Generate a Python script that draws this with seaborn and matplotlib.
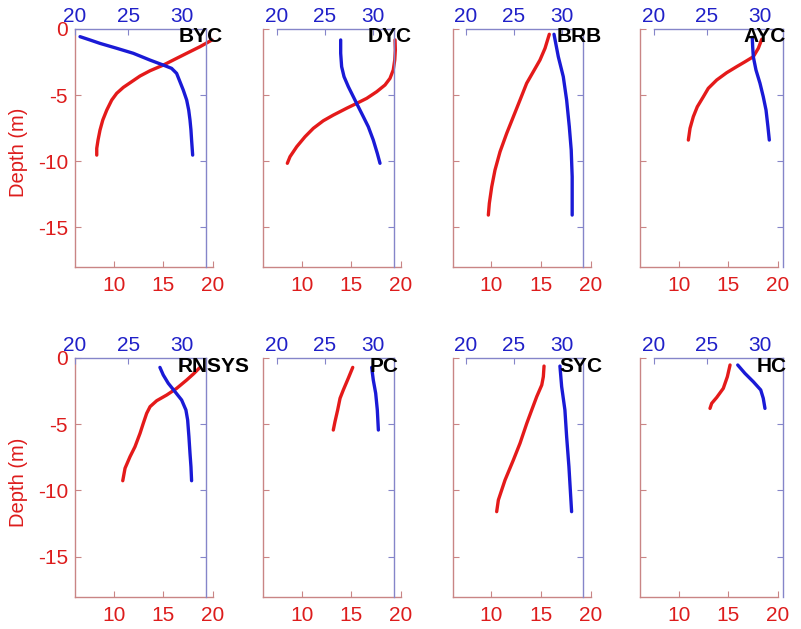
import matplotlib
matplotlib.use("Agg")
import matplotlib.pyplot as plt
import seaborn as sns
import pandas as pd

# ---- station profiles: temperature (deg C) and salinity vs depth (m) ----
stations = ["BYC", "DYC", "BRB", "AYC", "RNSYS", "PC", "SYC", "HC"]

byc_temp = [19.9, 18.69, 17.35, 16.0, 15.0, 13.66, 12.65, 11.81, 10.97, 10.3,
            9.8, 9.3, 8.9, 8.62, 8.42, 8.29, 8.29]
byc_temp_depth = [-0.83, -1.34, -1.84, -2.35, -2.73, -3.16, -3.56, -3.99, -4.42,
                  -4.87, -5.38, -6.14, -6.89, -7.65, -8.41, -9.04, -9.55]
byc_sal = [20.47, 21.4, 22.34, 23.9, 25.45, 27.0, 28.25, 29.03, 29.5, 29.81,
           30.12, 30.44, 30.63, 30.75, 30.84, 30.9, 31.0]
byc_sal_depth = [-0.58, -0.83, -1.09, -1.46, -1.84, -2.35, -2.73, -2.98, -3.36,
                 -3.99, -4.62, -5.38, -6.14, -6.89, -7.65, -8.41, -9.55]

dyc_temp = [19.4, 19.43, 19.37, 19.22, 18.89, 18.39, 17.55, 16.55, 15.54, 14.53,
            13.18, 12.17, 11.17, 10.33, 9.5, 8.82, 8.55]
dyc_temp_depth = [-0.83, -1.59, -2.35, -3.1, -3.74, -4.24, -4.75, -5.25, -5.63,
                  -6.0, -6.52, -6.95, -7.52, -8.16, -8.91, -9.67, -10.17]
dyc_sal = [26.64, 26.64, 26.74, 26.99, 27.44, 27.96, 28.48, 29.0, 29.52, 30.04,
           30.46, 30.74]
dyc_sal_depth = [-0.83, -1.84, -2.85, -3.61, -4.37, -5.13, -5.89, -6.64, -7.4,
                 -8.41, -9.42, -10.17]

brb_temp = [15.85, 15.42, 14.91, 14.24, 13.57, 12.9, 12.23, 11.56, 10.89, 10.38,
            10.05, 9.81, 9.71]
brb_temp_depth = [-0.4, -1.46, -2.35, -3.23, -4.11, -5.38, -6.64, -7.9, -9.29,
                  -10.68, -11.95, -13.2, -14.09]
brb_sal = [29.2, 29.65, 30.17, 30.52, 30.8, 31.0, 31.1, 31.1]
brb_sal_depth = [-0.4, -2.1, -3.61, -5.38, -7.4, -9.17, -11.19, -14.09]

ayc_temp = [18.36, 18.02, 17.51, 16.68, 15.84, 14.83, 13.83, 12.98, 12.48, 11.87,
            11.47, 11.14, 10.97]
ayc_temp_depth = [-0.78, -1.46, -2.1, -2.48, -2.85, -3.31, -3.86, -4.49, -5.13,
                  -5.89, -6.64, -7.52, -8.41]
ayc_sal = [29.27, 29.31, 29.37, 29.62, 30.0, 30.31, 30.57, 30.75, 30.88]
ayc_sal_depth = [-0.63, -1.34, -2.1, -3.1, -4.11, -5.13, -6.14, -7.4, -8.41]

rnsys_temp = [18.69, 18.02, 17.35, 16.34, 15.34, 14.33, 13.66, 13.32, 12.98,
              12.65, 12.14, 11.64, 11.14, 10.91]
rnsys_temp_depth = [-0.73, -1.23, -1.68, -2.31, -2.81, -3.24, -3.69, -4.19, -4.94,
                    -5.7, -6.71, -7.46, -8.33, -9.27]
rnsys_sal = [27.94, 28.25, 28.72, 29.35, 29.97, 30.37, 30.53, 30.65, 30.75, 30.84,
             30.9]
rnsys_sal_depth = [-0.73, -1.3, -1.93, -2.56, -3.19, -3.94, -4.69, -5.95, -7.2,
                   -8.21, -9.27]

pc_temp = [15.14, 14.69, 14.19, 13.86, 13.62, 13.35, 13.18]
pc_temp_depth = [-0.73, -1.55, -2.43, -3.06, -3.94, -4.82, -5.45]
pc_sal = [29.87, 30.04, 30.29, 30.46, 30.57]
pc_sal_depth = [-0.73, -1.68, -2.68, -3.94, -5.45]

syc_temp = [15.32, 15.25, 15.09, 14.58, 14.08, 13.58, 12.9, 12.23, 11.39, 10.72,
            10.55]
syc_temp_depth = [-0.63, -1.43, -2.06, -2.94, -3.94, -4.95, -6.45, -7.71, -9.22,
                  -10.72, -11.6]
syc_sal = [29.82, 30.0, 30.34, 30.52, 30.76, 31.04]
syc_sal_depth = [-0.63, -2.18, -3.94, -5.95, -8.21, -11.6]

hc_temp = [15.17, 14.9, 14.49, 13.83, 13.32, 13.15]
hc_temp_depth = [-0.55, -1.43, -2.31, -2.99, -3.44, -3.82]
hc_sal = [27.9, 28.58, 29.37, 30.07, 30.31, 30.47]
hc_sal_depth = [-0.55, -1.18, -1.81, -2.43, -3.06, -3.82]

temps = [byc_temp, dyc_temp, brb_temp, ayc_temp, rnsys_temp, pc_temp, syc_temp, hc_temp]
temp_depths = [byc_temp_depth, dyc_temp_depth, brb_temp_depth, ayc_temp_depth,
               rnsys_temp_depth, pc_temp_depth, syc_temp_depth, hc_temp_depth]
sals = [byc_sal, dyc_sal, brb_sal, ayc_sal, rnsys_sal, pc_sal, syc_sal, hc_sal]
sal_depths = [byc_sal_depth, dyc_sal_depth, brb_sal_depth, ayc_sal_depth,
              rnsys_sal_depth, pc_sal_depth, syc_sal_depth, hc_sal_depth]

temp_ticks = [10, 15, 20]
sal_ticks = [20, 25, 30]
depth_ticks = [0, -5, -10, -15]

# ---- styling ----
sns.set_style("white")
plt.rcParams["font.family"] = ["Liberation Sans", "DejaVu Sans"]

RED_LINE = "#e41a1a"
BLUE_LINE = "#1a1ad6"
RED_TXT = "#dd1c1c"
BLUE_TXT = "#2020c8"
RED_SPINE = "#c98585"
BLUE_SPINE = "#8585c9"

W, H = 801, 629
fig = plt.figure(figsize=(W / 100, H / 100), dpi=100)
fig.patch.set_facecolor("white")

# layout in pixels
red_left = [75, 263, 452.5, 640]
red_width = 138
blue_left = [75, 277, 466, 654]
blue_right = [205.5, 394, 582.7, 783.3]
row_top = [29, 357.7]
row_bottom = [266.7, 596.6]
title_x = [[179, 368, 557, 743.5], [178, 370, 559, 757]]
title_y = [37, 366]


def px_rect(left, right, top, bottom):
    return [left / W, 1 - bottom / H, (right - left) / W, (bottom - top) / H]


for i, name in enumerate(stations):
    r, c = divmod(i, 4)
    top, bot = row_top[r], row_bottom[r]

    # temperature axes (bottom/left)
    ax_t = fig.add_axes(px_rect(red_left[c], red_left[c] + red_width, top, bot))
    # salinity axes (top/right)
    ax_s = fig.add_axes(px_rect(blue_left[c], blue_right[c], top, bot))
    ax_t.patch.set_alpha(0)
    ax_s.patch.set_alpha(0)

    dt = pd.DataFrame({"temperature": temps[i], "depth": temp_depths[i]})
    ds = pd.DataFrame({"salinity": sals[i], "depth": sal_depths[i]})
    sns.lineplot(data=dt, x="temperature", y="depth", ax=ax_t, sort=False,
                 estimator=None, color=RED_LINE, linewidth=2.4, clip_on=False)
    sns.lineplot(data=ds, x="salinity", y="depth", ax=ax_s, sort=False,
                 estimator=None, color=BLUE_LINE, linewidth=2.4, clip_on=False)
    for ln in ax_t.get_lines() + ax_s.get_lines():
        ln.set_solid_joinstyle("round")
        ln.set_solid_capstyle("round")

    ax_t.set_xlim(6.1, 20)
    ax_t.set_ylim(-18, 0)
    ax_s.set_xlim(20, 32.2)
    ax_s.set_ylim(-18, 0)

    for sp in ["top", "right"]:
        ax_t.spines[sp].set_visible(False)
    for sp in ["left", "bottom"]:
        ax_t.spines[sp].set_color(RED_SPINE)
        ax_t.spines[sp].set_linewidth(1.0)
    for sp in ["left", "bottom"]:
        ax_s.spines[sp].set_visible(False)
    for sp in ["top", "right"]:
        ax_s.spines[sp].set_color(BLUE_SPINE)
        ax_s.spines[sp].set_linewidth(1.0)

    ax_t.set_xticks(temp_ticks)
    ax_t.set_xticklabels([str(v) for v in temp_ticks])
    ax_t.set_yticks(depth_ticks)
    if c == 0:
        ax_t.set_yticklabels([str(v) for v in depth_ticks])
        ax_t.set_ylabel("Depth (m)", color=RED_TXT, fontsize=14.5)
        ax_t.yaxis.set_label_coords(-0.34, 0.48)
    else:
        ax_t.set_yticklabels([])
        ax_t.set_ylabel("")
    ax_t.set_xlabel("")
    ax_t.tick_params(axis="x", direction="in", length=4, width=0.8, color=RED_SPINE,
                     labelcolor=RED_TXT, labelsize=15, pad=7, bottom=True)
    ax_t.tick_params(axis="y", direction="in", length=4, width=0.8, color=RED_SPINE,
                     labelcolor=RED_TXT, labelsize=15, pad=5, left=True)

    ax_s.xaxis.set_ticks_position("top")
    ax_s.xaxis.set_label_position("top")
    ax_s.yaxis.set_ticks_position("right")
    ax_s.set_xticks(sal_ticks)
    ax_s.set_xticklabels([str(v) for v in sal_ticks])
    ax_s.set_yticks(depth_ticks)
    ax_s.set_yticklabels([])
    ax_s.set_xlabel("")
    ax_s.set_ylabel("")
    ax_s.tick_params(axis="x", direction="in", length=4, width=0.8, color=BLUE_SPINE,
                     labelcolor=BLUE_TXT, labelsize=15, pad=2, top=True, bottom=False)
    ax_s.tick_params(axis="y", direction="in", length=4, width=0.8, color=BLUE_SPINE,
                     right=True, left=False)

    fig.text(title_x[r][c] / W, 1 - title_y[r] / H, name, fontsize=15,
             fontweight="bold", color="black", ha="left", va="center", zorder=10)

fig.savefig("out.png", dpi=100, facecolor="white")
